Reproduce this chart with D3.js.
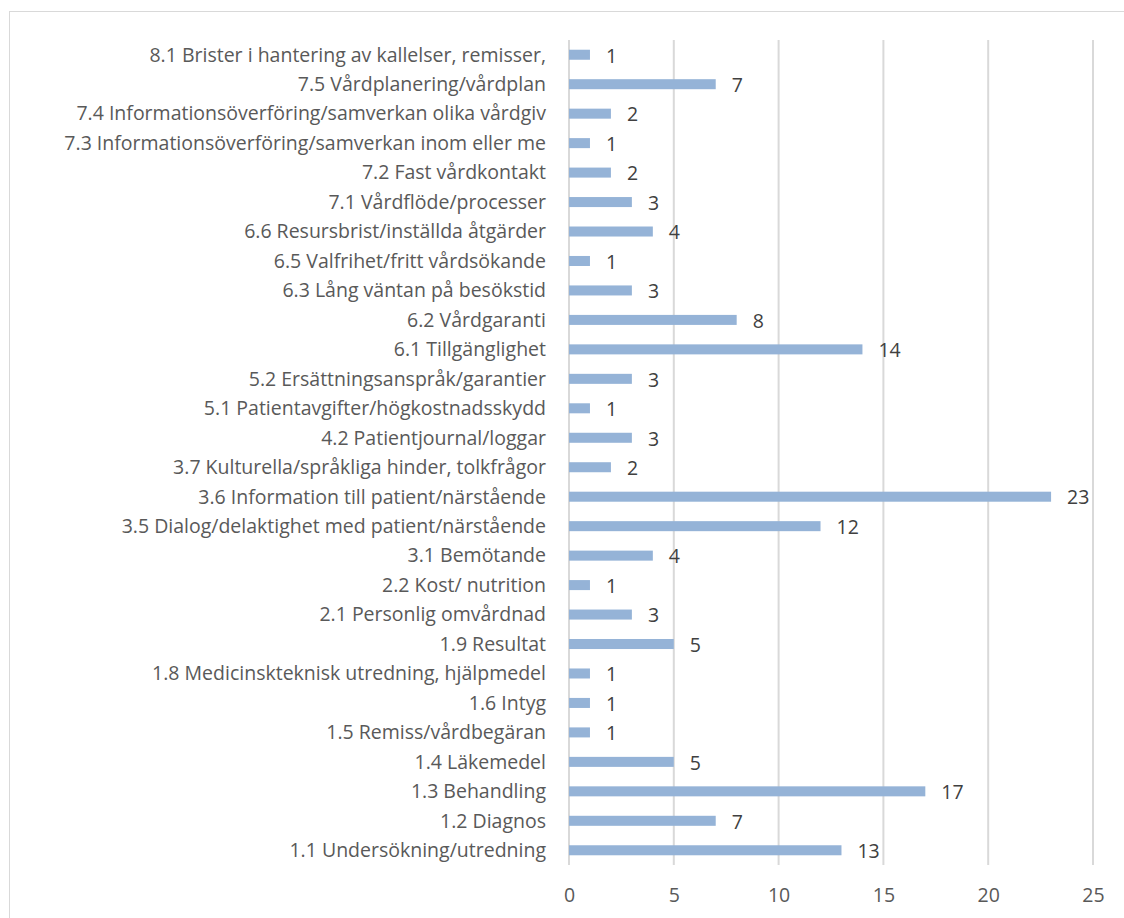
<!DOCTYPE html>
<html>
<head>
<meta charset="utf-8">
<script src="https://cdn.jsdelivr.net/npm/d3@7"></script>
<style>
  html, body { margin: 0; padding: 0; background: #ffffff; }
  svg { display: block; }
</style>
</head>
<body>
<div id="chart"></div>
<script>
// Categories, top to bottom
const categories = [
  "8.1 Brister i hantering av kallelser, remisser,",
  "7.5 Vårdplanering/vårdplan",
  "7.4 Informationsöverföring/samverkan olika vårdgiv",
  "7.3 Informationsöverföring/samverkan inom eller me",
  "7.2 Fast vårdkontakt",
  "7.1 Vårdflöde/processer",
  "6.6 Resursbrist/inställda åtgärder",
  "6.5 Valfrihet/fritt vårdsökande",
  "6.3 Lång väntan på besökstid",
  "6.2 Vårdgaranti",
  "6.1 Tillgänglighet",
  "5.2 Ersättningsanspråk/garantier",
  "5.1 Patientavgifter/högkostnadsskydd",
  "4.2 Patientjournal/loggar",
  "3.7 Kulturella/språkliga hinder, tolkfrågor",
  "3.6 Information till patient/närstående",
  "3.5 Dialog/delaktighet med patient/närstående",
  "3.1 Bemötande",
  "2.2 Kost/ nutrition",
  "2.1 Personlig omvårdnad",
  "1.9 Resultat",
  "1.8 Medicinskteknisk utredning, hjälpmedel",
  "1.6 Intyg",
  "1.5 Remiss/vårdbegäran",
  "1.4 Läkemedel",
  "1.3 Behandling",
  "1.2 Diagnos",
  "1.1 Undersökning/utredning"
];

const counts = [1, 7, 2, 1, 2, 3, 4, 1, 3, 8, 14, 3, 1, 3, 2, 23, 12, 4, 1, 3, 5, 1, 1, 1, 5, 17, 7, 13];

const xTicks = [0, 5, 10, 15, 20, 25];

const W = 1124, H = 918;
const plot = { left: 569, right: 1093, top: 40, bottom: 865 };
const FONT = "'Open Sans', 'Noto Sans', sans-serif";

const svg = d3.select("#chart").append("svg")
  .attr("width", W).attr("height", H);

// outer chart frame
svg.append("rect")
  .attr("x", 9.5).attr("y", 11.5)
  .attr("width", W + 20).attr("height", H + 20)
  .attr("fill", "#ffffff")
  .attr("stroke", "#d9d9d9").attr("stroke-width", 1);

const x = d3.scaleLinear().domain([0, 25]).range([plot.left, plot.right]);
const y = d3.scaleBand().domain(categories)
  .range([plot.top, plot.bottom]).paddingInner(0.66).paddingOuter(0.33);

// vertical gridlines
svg.append("g").selectAll("line").data(xTicks).join("line")
  .attr("x1", d => x(d)).attr("x2", d => x(d))
  .attr("y1", plot.top).attr("y2", plot.bottom)
  .attr("stroke", "#d9d9d9").attr("stroke-width", 2);

// x axis tick labels
const xAxis = d3.axisBottom(x).tickValues(xTicks).tickSize(0).tickPadding(0);
const gx = svg.append("g").attr("transform", `translate(0,${plot.bottom + 23})`).call(xAxis);
gx.select(".domain").remove();
gx.selectAll("text")
  .attr("font-family", FONT)
  .attr("font-size", 19.5).attr("fill", "#595959")
  .attr("dy", "0.71em");

// category labels
const gy = svg.append("g").attr("transform", `translate(${plot.left - 23},0)`)
  .call(d3.axisLeft(y).tickSize(0).tickPadding(0));
gy.select(".domain").remove();
gy.selectAll("text")
  .attr("font-family", FONT)
  .attr("font-size", 19.5).attr("fill", "#595959")
  .attr("dy", "0.35em");

const rows = categories.map((c, i) => ({ c, v: counts[i] }));

// bars
svg.append("g").selectAll("rect").data(rows).join("rect")
  .attr("x", x(0))
  .attr("y", d => y(d.c))
  .attr("width", d => x(d.v) - x(0))
  .attr("height", y.bandwidth())
  .attr("fill", "#95b3d7");

// value labels
svg.append("g").selectAll("text").data(rows).join("text")
  .attr("x", d => x(d.v) + 16)
  .attr("y", d => y(d.c) + y.bandwidth() / 2)
  .attr("dy", "0.4em")
  .attr("font-family", FONT)
  .attr("font-size", 19.5).attr("fill", "#404040")
  .text(d => d.v);
</script>
</body>
</html>
